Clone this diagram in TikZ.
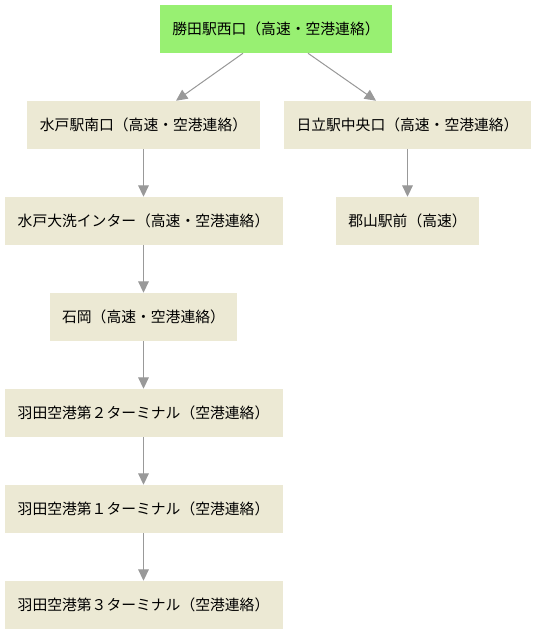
\documentclass[tikz,border=0pt]{standalone}
\usepackage{fontspec}
\setmainfont{Noto Sans CJK JP}
\usetikzlibrary{positioning,arrows.meta}

\definecolor{startgreen}{RGB}{152,240,114}
\definecolor{stopbeige}{RGB}{236,233,212}
\definecolor{edgegray}{RGB}{153,153,153}

\begin{document}
\begin{tikzpicture}[
  x=0.75pt, y=0.75pt,
  font=\fontsize{11.1}{13}\selectfont,
  >={Triangle[length=8.5pt,width=8pt]},
  stopbox/.style={
    rectangle, draw=none, fill=stopbeige,
    minimum height=36pt, inner xsep=6pt, align=center
  },
  startbox/.style={
    stopbox, fill=startgreen
  },
  arr/.style={->, line width=0.75pt, draw=edgegray, fill=edgegray}
]

\useasboundingbox (0,0) rectangle (537,635);

\node[startbox, minimum width=174pt] (katsuta) at (276,606) {勝田駅西口（高速・空港連絡）};

\node[stopbox, minimum width=175pt] (mitos) at (143.5,510) {水戸駅南口（高速・空港連絡）};
\node[stopbox, minimum width=185pt] (hitachi) at (407.5,510) {日立駅中央口（高速・空港連絡）};

\node[stopbox, minimum width=208.5pt, below=35.6pt of mitos] (oarai) {水戸大洗インター（高速・空港連絡）};
\node[stopbox, minimum width=107pt, below=35.6pt of hitachi] (koriyama) {郡山駅前（高速）};
\node[stopbox, minimum width=140pt, below=35.6pt of oarai] (ishioka) {石岡（高速・空港連絡）};
\node[stopbox, minimum width=208.5pt, below=35.6pt of ishioka] (term2) {羽田空港第２ターミナル（空港連絡）};
\node[stopbox, minimum width=208.5pt, below=35.6pt of term2] (term1) {羽田空港第１ターミナル（空港連絡）};
\node[stopbox, minimum width=208.5pt, below=35.6pt of term1] (term3) {羽田空港第３ターミナル（空港連絡）};

\draw[arr] ([xshift=-24.75pt]katsuta.south) -- ([xshift=24.4pt]mitos.north);
\draw[arr] ([xshift=24pt]katsuta.south) -- ([xshift=-23.6pt]hitachi.north);
\draw[arr] (mitos) -- (oarai);
\draw[arr] (hitachi) -- (koriyama);
\draw[arr] (oarai) -- (ishioka);
\draw[arr] (ishioka) -- (term2);
\draw[arr] (term2) -- (term1);
\draw[arr] (term1) -- (term3);

\end{tikzpicture}
\end{document}
